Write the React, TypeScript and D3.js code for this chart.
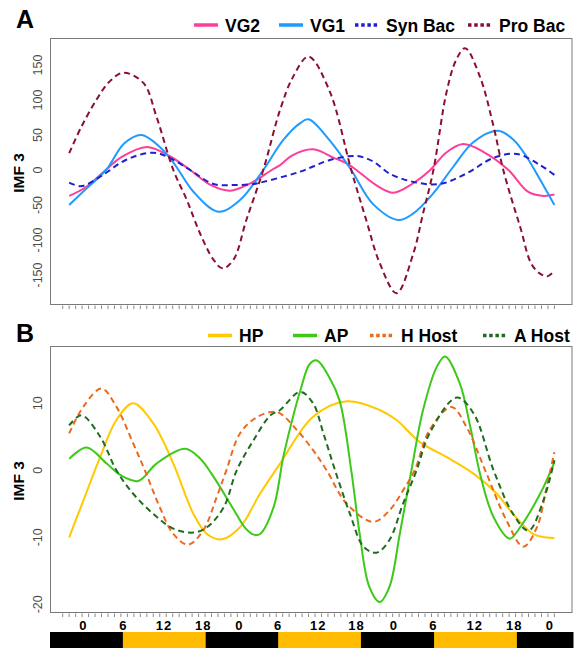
import React, { useRef, useEffect } from "react";
import * as d3 from "d3";

type Pt = [number, number];

// x is the sample index (0..76), one tick per sample

// panel A, IMF 3 values
const vg2: Pt[] = [[1, -37], [3.5, -25], [6.3, -3], [9, 18], [13, 33], [16.5, 20], [19.7, 0], [23, -22], [25.9, -29.5], [29, -19], [32.3, 0], [33.6, 7], [35.5, 21], [38.7, 29.5], [42, 17], [43.9, 9.5], [45.4, 0], [48.5, -22], [51.1, -32.4], [54, -20], [56.8, 0], [59.3, 25], [61.9, 37], [65, 26], [68.9, 0], [71.9, -31], [74.3, -37], [76, -35]];
const vg1: Pt[] = [[1, -50], [3.5, -28], [6.7, 0], [9.5, 38], [12.2, 50], [15, 33], [16.6, 17], [17.9, 0], [20.2, -31], [24.05, -59.5], [27.4, -43], [31, 0], [34.1, 43], [36.7, 67], [38, 72.4], [41.2, 43], [44.6, 0], [47.9, -48], [51.9, -71.4], [54.2, -62], [57.3, -33], [60.4, 5], [63.5, 40], [67.3, 56], [69.7, 43], [71.7, 19], [73.8, -14], [76, -50]];
const synBac: Pt[] = [[1, -18], [2.9, -23], [5.8, -9.5], [9.9, 15], [14, 24.8], [16.6, 17], [19.7, 0], [23.3, -20], [26.4, -21.5], [29.5, -20], [31, -17], [34.1, -9.5], [36.7, -2.4], [38.7, 5], [41.2, 14], [45.4, 20], [48, 12], [50.5, -5], [54.2, -17], [58.3, -20], [62.4, -5], [66.5, 17], [70.2, 22.9], [73.8, 7], [76, -7]];
const proBac: Pt[] = [[1, 24], [2.9, 62], [5.2, 100], [7.2, 126], [9.4, 139], [12.5, 124], [14.5, 76], [17.1, 0], [19.2, -43], [21.2, -90], [23.3, -128], [24.7, -140.5], [26.4, -128], [28.4, -71], [31, 0], [33.6, 86], [35.6, 133], [38, 162], [41.2, 114], [44.6, 0], [46.9, -71], [49, -133], [51.6, -176], [54.2, -119], [55.7, -62], [57.3, 0], [59.3, 110], [60.8, 157], [62.2, 174], [64.5, 133], [66.6, 62], [68.1, 0], [70.7, -81], [72.7, -138], [74.8, -152], [76, -144]];

// panel B, IMF 3 values
const hp: Pt[] = [[1, -10], [3.2, -4.5], [5.8, 2], [8.3, 7.5], [10.9, 10], [14, 7], [17.1, 1], [20.2, -6.5], [22.3, -9.5], [24.6, -10.3], [27.4, -8.5], [30.5, -3.5], [33.6, 1], [38.7, 8], [43.9, 10.3], [49, 9], [51.6, 7.5], [55.2, 4.2], [59.3, 2], [63.5, -0.5], [67.1, -3.5], [69.6, -6.5], [72.7, -9.5], [74.5, -10], [76, -10.1]];
const ap: Pt[] = [[1, 1.7], [3.7, 3.4], [6.8, 1], [8.9, -0.7], [11.7, -1.6], [14.5, 1], [18.9, 3.2], [21.2, 1.8], [23, -0.5], [26.4, -5.8], [28.2, -8.6], [29.5, -9.6], [30.5, -9.5], [32.6, -5.5], [34.1, 2], [35.6, 8], [36.7, 11.8], [38.2, 15.9], [39.3, 16.4], [41.2, 13.9], [42.8, 10.4], [44.6, 0], [45.9, -9.5], [47.4, -17.4], [49, -19.65], [50.5, -17.4], [52.1, -9.5], [53.9, 0], [55.7, 9], [57.8, 15.4], [59.1, 17], [61.4, 12.9], [63, 6.5], [64.5, -0.5], [66.6, -7], [69.1, -10.2], [70.7, -8.5], [73.8, -3.5], [76, 1.2]];
const hHost: Pt[] = [[1, 5.5], [3.2, 9.5], [6, 12.2], [8.3, 9.5], [10.9, 4], [12.7, 0], [15, -5.5], [17.1, -9.5], [19.4, -11.1], [21.7, -9], [23.8, -4], [25.3, 0], [27.4, 5.5], [30, 7.9], [33.1, 8.7], [36.2, 6], [38.7, 3], [40.8, 0], [43.9, -5], [48, -7.7], [50.5, -6], [52.6, -3], [54.4, 0], [56.7, 6], [60.1, 9.45], [62.4, 6.5], [65.3, 0], [68.6, -7.5], [71.2, -11.4], [73.3, -8.5], [74.8, -2.5], [76, 2.7]];
const aHost: Pt[] = [[1, 6.7], [2.9, 8.2], [5.8, 5], [8.3, 0], [10.9, -3.5], [14, -6.5], [17.1, -8.7], [20.2, -9.3], [22.3, -8.5], [24.9, -5.5], [26.9, 0], [29.5, 4.5], [32.1, 8.2], [33.6, 9], [36.7, 11.7], [38.7, 10], [40.3, 5.5], [42.1, 0], [44.4, -6.5], [46.5, -11.4], [48.5, -12.3], [50.5, -10.4], [52.6, -5], [54.7, 0], [56.7, 5.5], [60.9, 10.85], [63.5, 8.5], [66.6, 0], [69.6, -6.5], [72, -9], [74.3, -4.5], [76, 1.5]];

const yTicksA = [-150, -100, -50, 0, 50, 100, 150];
const yTicksB = [-20, -10, 0, 10];
const hourLabels = ["0", "6", "12", "18", "0", "6", "12", "18", "0", "6", "12", "18", "0"];
const hourAt = [3.18, 9.37, 15.66, 21.73, 27.3, 33.3, 39.5, 45.4, 51.2, 57.3, 63.7, 69.8, 75.3];
const lightStart = [9.3, 33.3, 57.4];
const lightEnd = [22.1, 46.1, 70.2];
const nSamples = 77;

const seriesA = [
    { name: "VG2", data: vg2, color: "#ff3d9a", dashed: false },
    { name: "VG1", data: vg1, color: "#1e9bff", dashed: false },
    { name: "Syn Bac", data: synBac, color: "#2020cc", dashed: true },
    { name: "Pro Bac", data: proBac, color: "#8b1030", dashed: true },
];
const seriesB = [
    { name: "HP", data: hp, color: "#ffc800", dashed: false },
    { name: "AP", data: ap, color: "#3ec81a", dashed: false },
    { name: "H Host", data: hHost, color: "#ec6a20", dashed: true },
    { name: "A Host", data: aHost, color: "#1f6b1f", dashed: true },
];

const FONT = "'Liberation Sans', Arial, Helvetica, sans-serif";

const App = () => {
    const svgRef = useRef<SVGSVGElement>(null);
    const W = 574, H = 648;
    const boxL = 50, boxR = 572.5;

    useEffect(() => {
        const svg = d3.select(svgRef.current);
        svg.selectAll("*").remove();

        const x = d3.scaleLinear().domain([0, nSamples - 1]).range([62.7, 554.4]);

        const drawPanel = (opts: any) => {
            const { top, bottom, y, ticks, series, letter, letterY, legendX, legendY } = opts;
            const g = svg.append("g");

            // frame
            g.append("rect")
                .attr("x", boxL + 0.5).attr("y", top + 0.5)
                .attr("width", boxR - boxL - 1).attr("height", bottom - top)
                .attr("fill", "none").attr("stroke", "#7a7a7a").attr("stroke-width", 1);

            // small ticks for each sample
            g.selectAll(".xt")
                .data(d3.range(nSamples))
                .join("line")
                .attr("x1", d => x(d)).attr("x2", d => x(d))
                .attr("y1", bottom + 1.5).attr("y2", bottom + 5)
                .attr("stroke", "#8a8a8a").attr("stroke-width", 1);

            // y labels, rotated like base R
            g.selectAll(".yl")
                .data(ticks)
                .join("text")
                .attr("transform", (d: number) => `translate(41.5, ${y(d)}) rotate(-90)`)
                .attr("text-anchor", "middle")
                .attr("font-family", FONT)
                .attr("font-size", 12.5)
                .attr("fill", "#4a4a4a")
                .text((d: number) => d);

            g.append("text")
                .attr("transform", `translate(24, ${(top + bottom) / 2 + 2}) rotate(-90)`)
                .attr("text-anchor", "middle")
                .attr("font-family", FONT)
                .attr("font-weight", "bold")
                .attr("font-size", 15.5)
                .text("IMF 3");

            g.append("text")
                .attr("x", 16).attr("y", letterY)
                .attr("font-family", FONT)
                .attr("font-weight", "bold")
                .attr("font-size", 25)
                .text(letter);

            const line = d3.line<Pt>()
                .x(d => x(d[0]))
                .y(d => y(d[1]))
                .curve(d3.curveCatmullRom.alpha(0.5));

            g.selectAll(".curve")
                .data(series)
                .join("path")
                .attr("d", (s: any) => line(s.data))
                .attr("fill", "none")
                .attr("stroke", (s: any) => s.color)
                .attr("stroke-width", 2)
                .attr("stroke-dasharray", (s: any) => (s.dashed ? "6,4" : null));

            // legend across the top
            series.forEach((s: any, i: number) => {
                const lx = legendX[i];
                g.append("line")
                    .attr("x1", lx).attr("x2", lx + 24)
                    .attr("y1", legendY - 6.5).attr("y2", legendY - 6.5)
                    .attr("stroke", s.color)
                    .attr("stroke-width", 3.5)
                    .attr("stroke-dasharray", s.dashed ? "3.5,2.7" : null);
                g.append("text")
                    .attr("x", lx + 31).attr("y", legendY)
                    .attr("font-family", FONT)
                    .attr("font-weight", "bold")
                    .attr("font-size", 17.5)
                    .text(s.name);
            });
        };

        drawPanel({
            top: 38, bottom: 304,
            y: d3.scaleLinear().domain([-150, 150]).range([275, 65]),
            ticks: yTicksA, series: seriesA, letter: "A", letterY: 28,
            legendX: [194, 279, 355, 468], legendY: 31.5,
        });
        drawPanel({
            top: 346, bottom: 612,
            y: d3.scaleLinear().domain([-20, 10]).range([604.3, 403.3]),
            ticks: yTicksB, series: seriesB, letter: "B", letterY: 342,
            legendX: [208, 293, 370, 483], legendY: 342,
        });

        // hour labels under panel B
        svg.selectAll(".hr")
            .data(hourLabels)
            .join("text")
            .attr("x", (d, i) => x(hourAt[i]))
            .attr("y", 629.5)
            .attr("text-anchor", "middle")
            .attr("font-family", FONT)
            .attr("font-weight", "bold")
            .attr("font-size", 13)
            .attr("letter-spacing", 1)
            .text(d => d);

        // light / dark bar
        svg.append("rect")
            .attr("x", boxL).attr("y", 632)
            .attr("width", boxR - boxL + 1).attr("height", 20)
            .attr("fill", "#000");
        svg.selectAll(".light")
            .data(lightStart)
            .join("rect")
            .attr("x", d => x(d))
            .attr("y", 632)
            .attr("width", (d, i) => x(lightEnd[i]) - x(d))
            .attr("height", 20)
            .attr("fill", "#ffbb00");
    }, []);

    return (
        <div>
            <svg ref={svgRef} width={W} height={H}
                style={{ position: "absolute", left: 0, top: 0, background: "#fff" }}>
            </svg>
        </div>
    );
};

export default App;
